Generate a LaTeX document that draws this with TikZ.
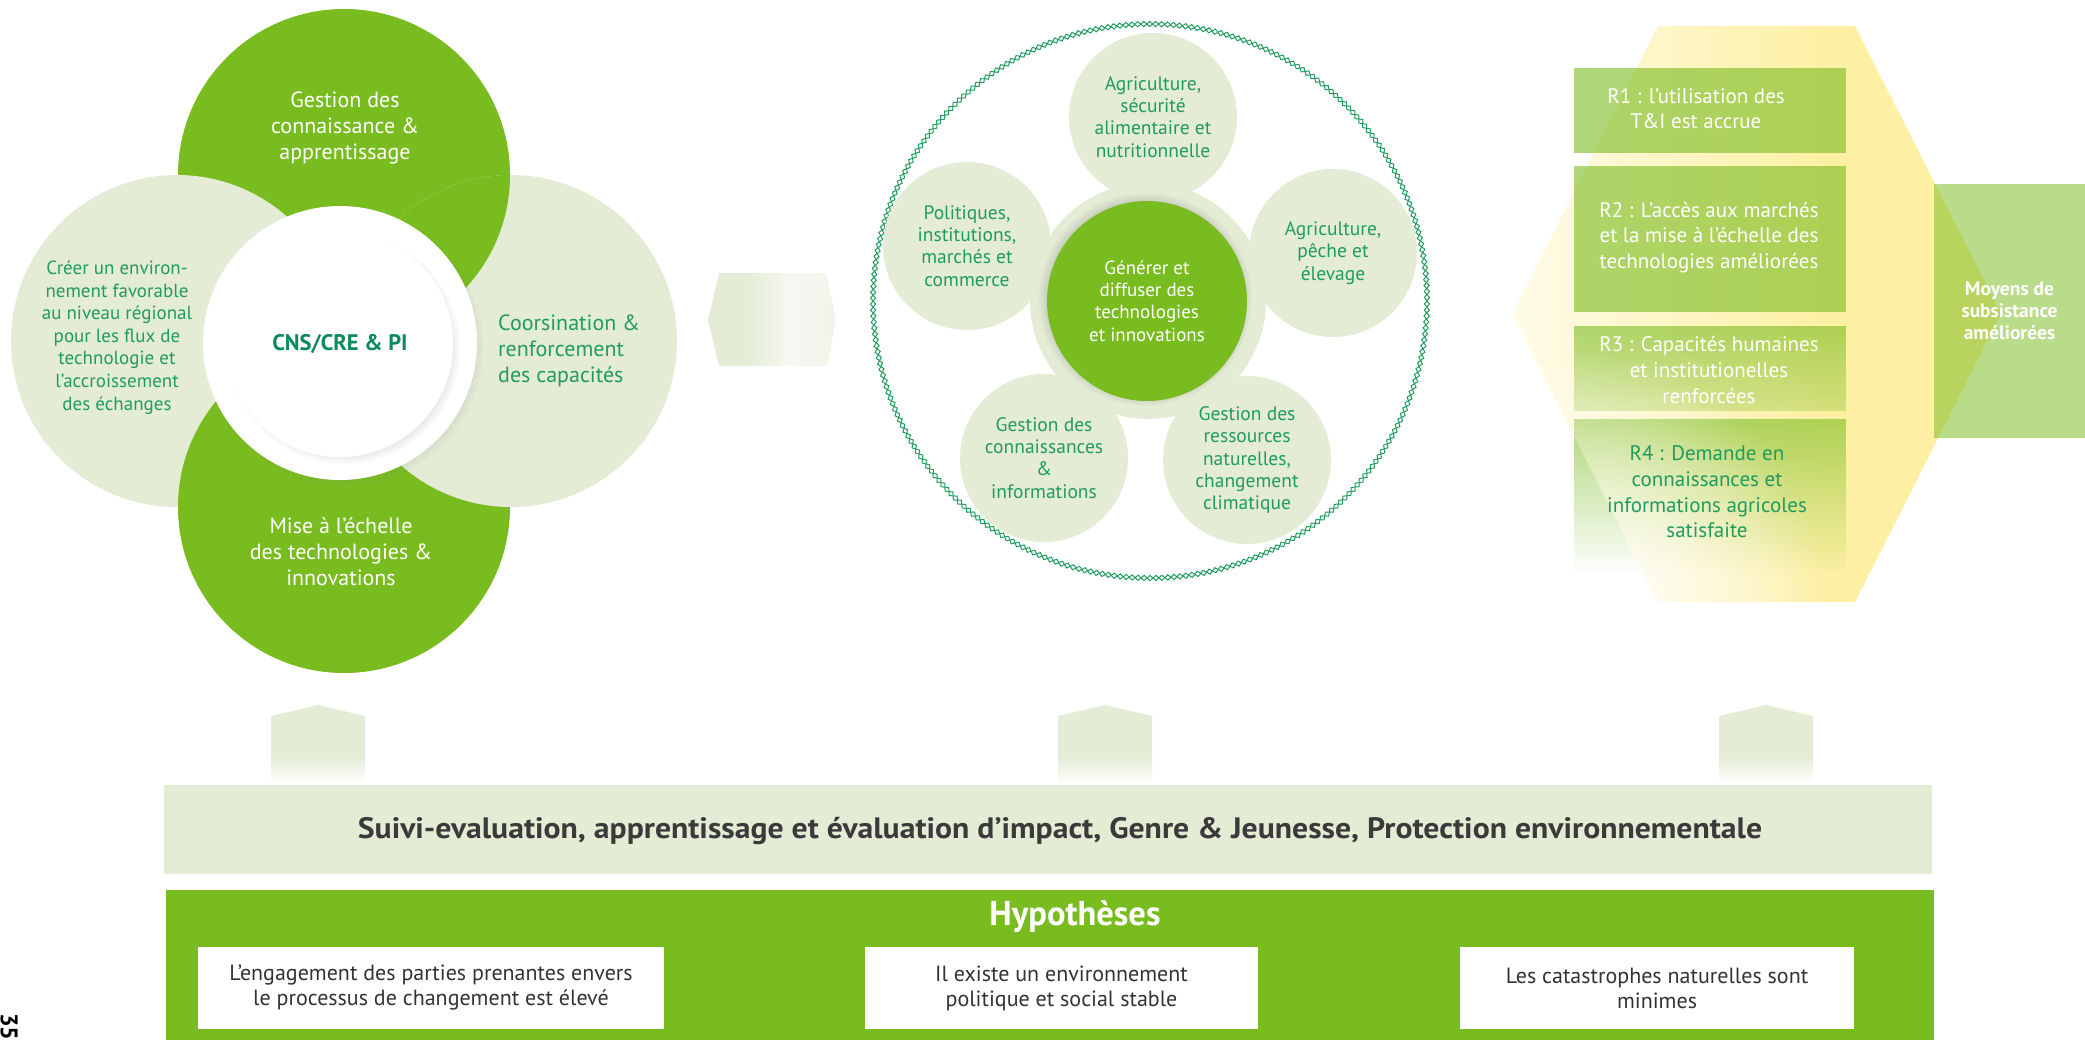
\documentclass[tikz,border=0pt]{standalone}
\usepackage{fontspec}
\setmainfont{PT Sans}
\usepackage{xcolor}
\usetikzlibrary{shadows,fadings,decorations.pathmorphing}

\definecolor{leafgreen}{HTML}{79BC1F}
\definecolor{palegreen}{HTML}{E4ECD6}
\definecolor{inkgreen}{HTML}{1F9C5E}
\definecolor{deepgreen}{HTML}{0B8A5B}
\definecolor{hexyellow}{HTML}{FDF0A4}
\definecolor{bandgray}{HTML}{3A3A3A}
\definecolor{notegray}{HTML}{333333}
\colorlet{hexpale}{hexyellow!25!white}
\colorlet{linkpale}{palegreen!35!white}
\colorlet{linkend}{palegreen!55!white}

\pgfdeclarehorizontalshading{hexshade}{100bp}{color(0bp)=(hexpale); color(25bp)=(hexpale); color(57bp)=(hexyellow); color(100bp)=(hexyellow)}
\pgfdeclarehorizontalshading{linkshade}{100bp}{color(0bp)=(palegreen); color(40bp)=(palegreen); color(57bp)=(linkpale); color(75bp)=(linkend); color(100bp)=(linkend)}
\pgfdeclareverticalshading{stemshade}{100bp}{color(0bp)=(white); color(25bp)=(white); color(42bp)=(palegreen); color(100bp)=(palegreen)}

\tikzfading[name=fade down, top color=transparent!0, bottom color=transparent!100]
\tikzfading[name=fade soft, top color=transparent!0, bottom color=transparent!50]
\tikzfading[name=glow, inner color=transparent!0, outer color=transparent!100]

\tikzset{
  blurb/.style={inner sep=0pt, align=center},
  bigleaf/.style={blurb, font=\fontsize{22}{26}\selectfont},
  petal/.style={circle, fill=palegreen, minimum size=168, inner sep=0pt, align=center, text=inkgreen, font=\fontsize{19.5}{22.3}\selectfont},
  chain/.style={draw=inkgreen, line width=1, decorate, decoration={zigzag, segment length=12, amplitude=2.6}},
  rbox/.style={fill=leafgreen, fill opacity=0.6, minimum width=272, minimum height=#1, inner sep=0pt},
  rtext/.style={blurb, text=white, font=\fontsize{21}{25.6}\selectfont},
  notebox/.style={fill=white, minimum height=82, minimum width=#1, inner sep=0pt, align=center, text=notegray, font=\fontsize{22}{25}\selectfont}
}

\def\hexpath{(1512,314) -- (1658,26) -- (1855,26) -- (2001,314) -- (1855,602) -- (1658,602) -- cycle}

\begin{document}
\begin{tikzpicture}[x=1pt, y=-1pt]
\useasboundingbox (0,0) rectangle (2085,1039);

% flower of four themes
\fill[leafgreen] (344,175) circle[radius=166];
\fill[palegreen] (177,341) circle[radius=166];
\fill[leafgreen] (344,507) circle[radius=166];
\fill[palegreen] (511,341) circle[radius=166];
\begin{scope}
  \clip (511,341) circle[radius=166];
  \fill[leafgreen] (344,175) circle[radius=166];
\end{scope}

\node[circle, fill=white, minimum size=274, inner sep=0pt,
      circular drop shadow={shadow xshift=4pt, shadow yshift=-4pt, shadow scale=1.02, opacity=0.3}] (hubring) at (340,343) {};
\node[circle, fill=white, minimum size=226, inner sep=0pt,
      circular drop shadow={shadow xshift=4pt, shadow yshift=-4pt, shadow scale=1.03, opacity=0.3}] (hub) at (340,344) {};
\node[text=deepgreen, font=\bfseries\fontsize{22.5}{24}\selectfont] (hubtext) at (hub) {CNS/CRE \& PI};

\node[bigleaf, text=white] (kmtext) at (345,128) {Gestion des\\connaissance \&\\apprentissage};
\node[blurb, text=inkgreen, font=\fontsize{19}{22.6}\selectfont] (envtext) at (117,337.5)
  {Créer un environ-\\nement favorable\\au niveau régional\\pour les flux de\\technologie et\\l’accroissement\\des échanges};
\node[bigleaf, align=left, anchor=west, text=inkgreen] (captext) at (498,350.5) {Coorsination \&\\renforcement\\des capacités};
\node[bigleaf, text=white] (scaletext) at (341,551.5) {Mise à l’échelle\\des technologies \&\\innovations};

% link towards the circle
\shade[shading=linkshade] (708,320) -- (719,273) -- (826,273) -- (836,320) -- (827,366) -- (719,366) -- cycle;

% circle of five domains
\coordinate (orbit) at (1150,301);
\draw[chain] (orbit) circle[radius=277];
\draw[chain, decoration={mirror}] (orbit) circle[radius=277];

\foreach \px/\py/\pname/\ptext in {
  1153/117/agri/{Agriculture,\\sécurité\\alimentaire et\\nutritionnelle},
  1333/253/peche/{Agriculture,\\pêche et\\élevage},
  1247/460/nrm/{Gestion des\\ressources\\naturelles,\\changement\\climatique},
  1044/458/kim/{Gestion des\\connaissances\\\&\\informations},
  967/246/policy/{Politiques,\\institutions,\\marchés et\\commerce}}
  \node[petal] (\pname) at (\px,\py) {\ptext};

\node[circle, fill=palegreen, minimum size=236, inner sep=0pt] (corering) at (1148,301) {};
\node[circle, fill=leafgreen, minimum size=200, inner sep=0pt, align=center, text=white,
      font=\fontsize{19}{22.3}\selectfont,
      circular drop shadow={shadow xshift=-2pt, shadow yshift=2pt, shadow scale=1.07, opacity=0.45}] (core) at (1147,301)
  {Générer et\\diffuser des\\technologies\\et innovations};

% results
\shade[shading=hexshade] \hexpath;
\node[rbox=85] (r1box) at (1710,110.5) {};
\node[rbox=146] (r2box) at (1710,239) {};
\node[rbox=85, path fading=fade soft] (r3box) at (1710,368.5) {};
\node[rbox=156, path fading=fade down] (r4box) at (1710,497) {};
\node[fill=leafgreen, fill opacity=0.52, text opacity=1, text=white, minimum width=151, minimum height=254,
      inner sep=0pt, align=center, font=\bfseries\fontsize{19.5}{22}\selectfont] (goal) at (2009.5,311)
  {Moyens de\\subsistance\\améliorées};
\begin{scope}
  \clip \hexpath;
  \fill[white, path fading=glow] (1574,602) circle[radius=250];
\end{scope}

\node[rtext] (r1) at (1696,108.5) {R1 : l’utilisation des\\T\&I est accrue};
\node[rtext] (r2) at (1709,237.5) {R2 : L’accès aux marchés\\et la mise à l’échelle des\\technologies améliorées};
\node[rtext] (r3) at (1709,370) {R3 : Capacités humaines\\et institutionelles\\renforcées};
\node[rtext, text=inkgreen] (r4) at (1707,492) {R4 : Demande en\\connaissances et\\informations agricoles\\satisfaite};

% cross-cutting band
\foreach \ax in {318,1105,1766}
  \shade[shading=stemshade] (\ax-47,716) -- (\ax,705) -- (\ax+47,716) -- (\ax+47,784) -- (\ax-47,784) -- cycle;

\node[fill=palegreen, minimum width=1768, minimum height=89, inner sep=0pt] (band) at (1048,829.5) {};
\node[text=bandgray, xscale=1.075, font=\bfseries\fontsize{29.5}{31}\selectfont] (bandtext) at (1060,831)
  {Suivi-evaluation, apprentissage et évaluation d’impact, Genre \& Jeunesse, Protection environnementale};

% assumptions
\node[fill=leafgreen, minimum width=1768, minimum height=160, inner sep=0pt, anchor=north west] (hypo) at (166,890) {};
\node[text=white, font=\bfseries\fontsize{34.5}{36}\selectfont] (hypotitle) at (1075,917) {Hypothèses};
\node[notebox=466] (a1) at (431,988) {L’engagement des parties prenantes envers\\le processus de changement est élevé};
\node[notebox=393] (a2) at (1061.5,988) {Il existe un environnement\\politique et social stable};
\node[notebox=394] (a3) at (1657,988) {Les catastrophes naturelles sont\\minimes};

\node[rotate=-90, anchor=west, inner sep=0pt, font=\bfseries\fontsize{24}{24}\selectfont] (folio) at (9,1013) {35};
\end{tikzpicture}
\end{document}
